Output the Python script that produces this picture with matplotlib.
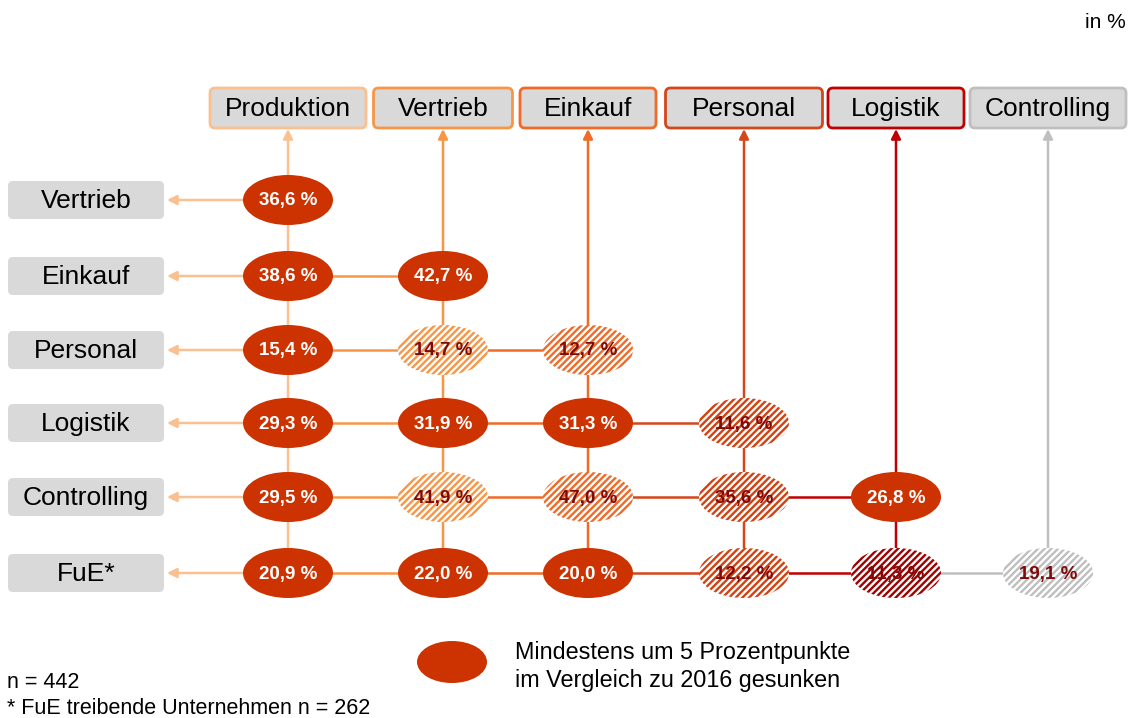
import matplotlib
matplotlib.use("Agg")
import matplotlib.pyplot as plt
from matplotlib.patches import Ellipse, FancyBboxPatch

plt.rcParams['font.family'] = ['Liberation Sans', 'DejaVu Sans']
plt.rcParams['hatch.linewidth'] = 1.7

# ---- data ----
columns = ["Produktion", "Vertrieb", "Einkauf", "Personal", "Logistik", "Controlling"]
col_colors = ["#FAC090", "#F79646", "#F06A28", "#D4471A", "#C00000", "#BFBFBF"]
hatch_colors = ["#FAC090", "#F79646", "#F06A28", "#D4400F", "#A00000", "#BFBFBF"]
rows = ["Vertrieb", "Einkauf", "Personal", "Logistik", "Controlling", "FuE*"]
values = [
    [36.6],
    [38.6, 42.7],
    [15.4, 14.7, 12.7],
    [29.3, 31.9, 31.3, 11.6],
    [29.5, 41.9, 47.0, 35.6, 26.8],
    [20.9, 22.0, 20.0, 12.2, 11.3, 19.1],
]
# True = mindestens um 5 Prozentpunkte gesunken (solid)
solid = [
    [True],
    [True, True],
    [True, False, False],
    [True, True, True, False],
    [True, False, False, False, True],
    [True, True, True, False, False, False],
]

SOLID = "#CC3300"
HATCH_TEXT = "#7F0A0A"
BOXFILL = "#D9D9D9"

# ---- layout (pixels) ----
W, H = 1132, 718
col_x = [288, 443, 588, 744, 896, 1048]
col_w = [156, 139, 136, 157, 136, 156]
head_y, head_h = 108, 40
row_y = [200, 276, 350, 423, 497, 573]
lab_x0, lab_x1, lab_h = 8, 164, 38
ew, eh = 90, 50

fig = plt.figure(figsize=(W / 100, H / 100), dpi=100)
ax = fig.add_axes([0, 0, 1, 1])
ax.set_xlim(0, W)
ax.set_ylim(H, 0)
ax.axis("off")

lw = 1.8

def fmt(v):
    return f"{v:.1f}".replace(".", ",") + " %"

# header boxes
for x, w, name, c in zip(col_x, col_w, columns, col_colors):
    ax.add_patch(FancyBboxPatch((x - w / 2 + 5, head_y - head_h / 2 + 5), w - 10, head_h - 10,
                                boxstyle="round,pad=5", fc=BOXFILL, ec=c, lw=2, zorder=3))
    ax.text(x, head_y + 1, name, ha="center", va="center", fontsize=19, color="black", zorder=4)

# row label boxes
for y, name in zip(row_y, rows):
    ax.add_patch(FancyBboxPatch((lab_x0 + 5, y - lab_h / 2 + 5), lab_x1 - lab_x0 - 10, lab_h - 10,
                                boxstyle="round,pad=5", fc=BOXFILL, ec="none", zorder=3))
    ax.text((lab_x0 + lab_x1) / 2, y + 1, name, ha="center", va="center", fontsize=19,
            color="black", zorder=4)

# vertical lines with arrows to headers
last_y = row_y[-1]
for j, (x, c) in enumerate(zip(col_x, col_colors)):
    ax.annotate("", xy=(x, head_y + head_h / 2 + 1), xytext=(x, last_y),
                arrowprops=dict(arrowstyle="-|>", color=c, lw=lw, mutation_scale=14,
                                shrinkA=0, shrinkB=0), zorder=1)

# horizontal lines and left arrows
for i, y in enumerate(row_y):
    ax.annotate("", xy=(lab_x1 + 3, y), xytext=(col_x[0], y),
                arrowprops=dict(arrowstyle="-|>", color=col_colors[0], lw=lw, mutation_scale=14,
                                shrinkA=0, shrinkB=0), zorder=1)
    for j in range(1, len(values[i])):
        ax.plot([col_x[j - 1], col_x[j]], [y, y], color=col_colors[j], lw=lw, zorder=1,
                solid_capstyle="butt")

# ellipses
for i, y in enumerate(row_y):
    for j, v in enumerate(values[i]):
        x = col_x[j]
        if solid[i][j]:
            ax.add_patch(Ellipse((x, y), ew, eh, fc=SOLID, ec="none", zorder=2))
            ax.text(x, y + 1, fmt(v), ha="center", va="center", fontsize=13.5,
                    fontweight="bold", color="white", zorder=5)
        else:
            ax.add_patch(Ellipse((x, y), ew, eh, fc="white", ec="none", zorder=2))
            ax.add_patch(Ellipse((x, y), ew, eh, fc="none", ec=hatch_colors[j], lw=0,
                                 hatch="/////", zorder=2.5))
            ax.text(x, y + 1, fmt(v), ha="center", va="center", fontsize=13.5,
                    fontweight="bold", color=HATCH_TEXT, zorder=5)

# legend
ax.add_patch(Ellipse((452, 662), 70, 42, fc=SOLID, ec="none", zorder=2))
ax.text(515, 652, "Mindestens um 5 Prozentpunkte", ha="left", va="center", fontsize=16.8)
ax.text(515, 680, "im Vergleich zu 2016 gesunken", ha="left", va="center", fontsize=16.8)

# notes
ax.text(1126, 22, "in %", ha="right", va="center", fontsize=15)
ax.text(7, 683, "n = 442", ha="left", va="center", fontsize=15.5)
ax.text(7, 708, "* FuE treibende Unternehmen n = 262", ha="left", va="center", fontsize=15.5)

fig.savefig("out.png", dpi=100)
